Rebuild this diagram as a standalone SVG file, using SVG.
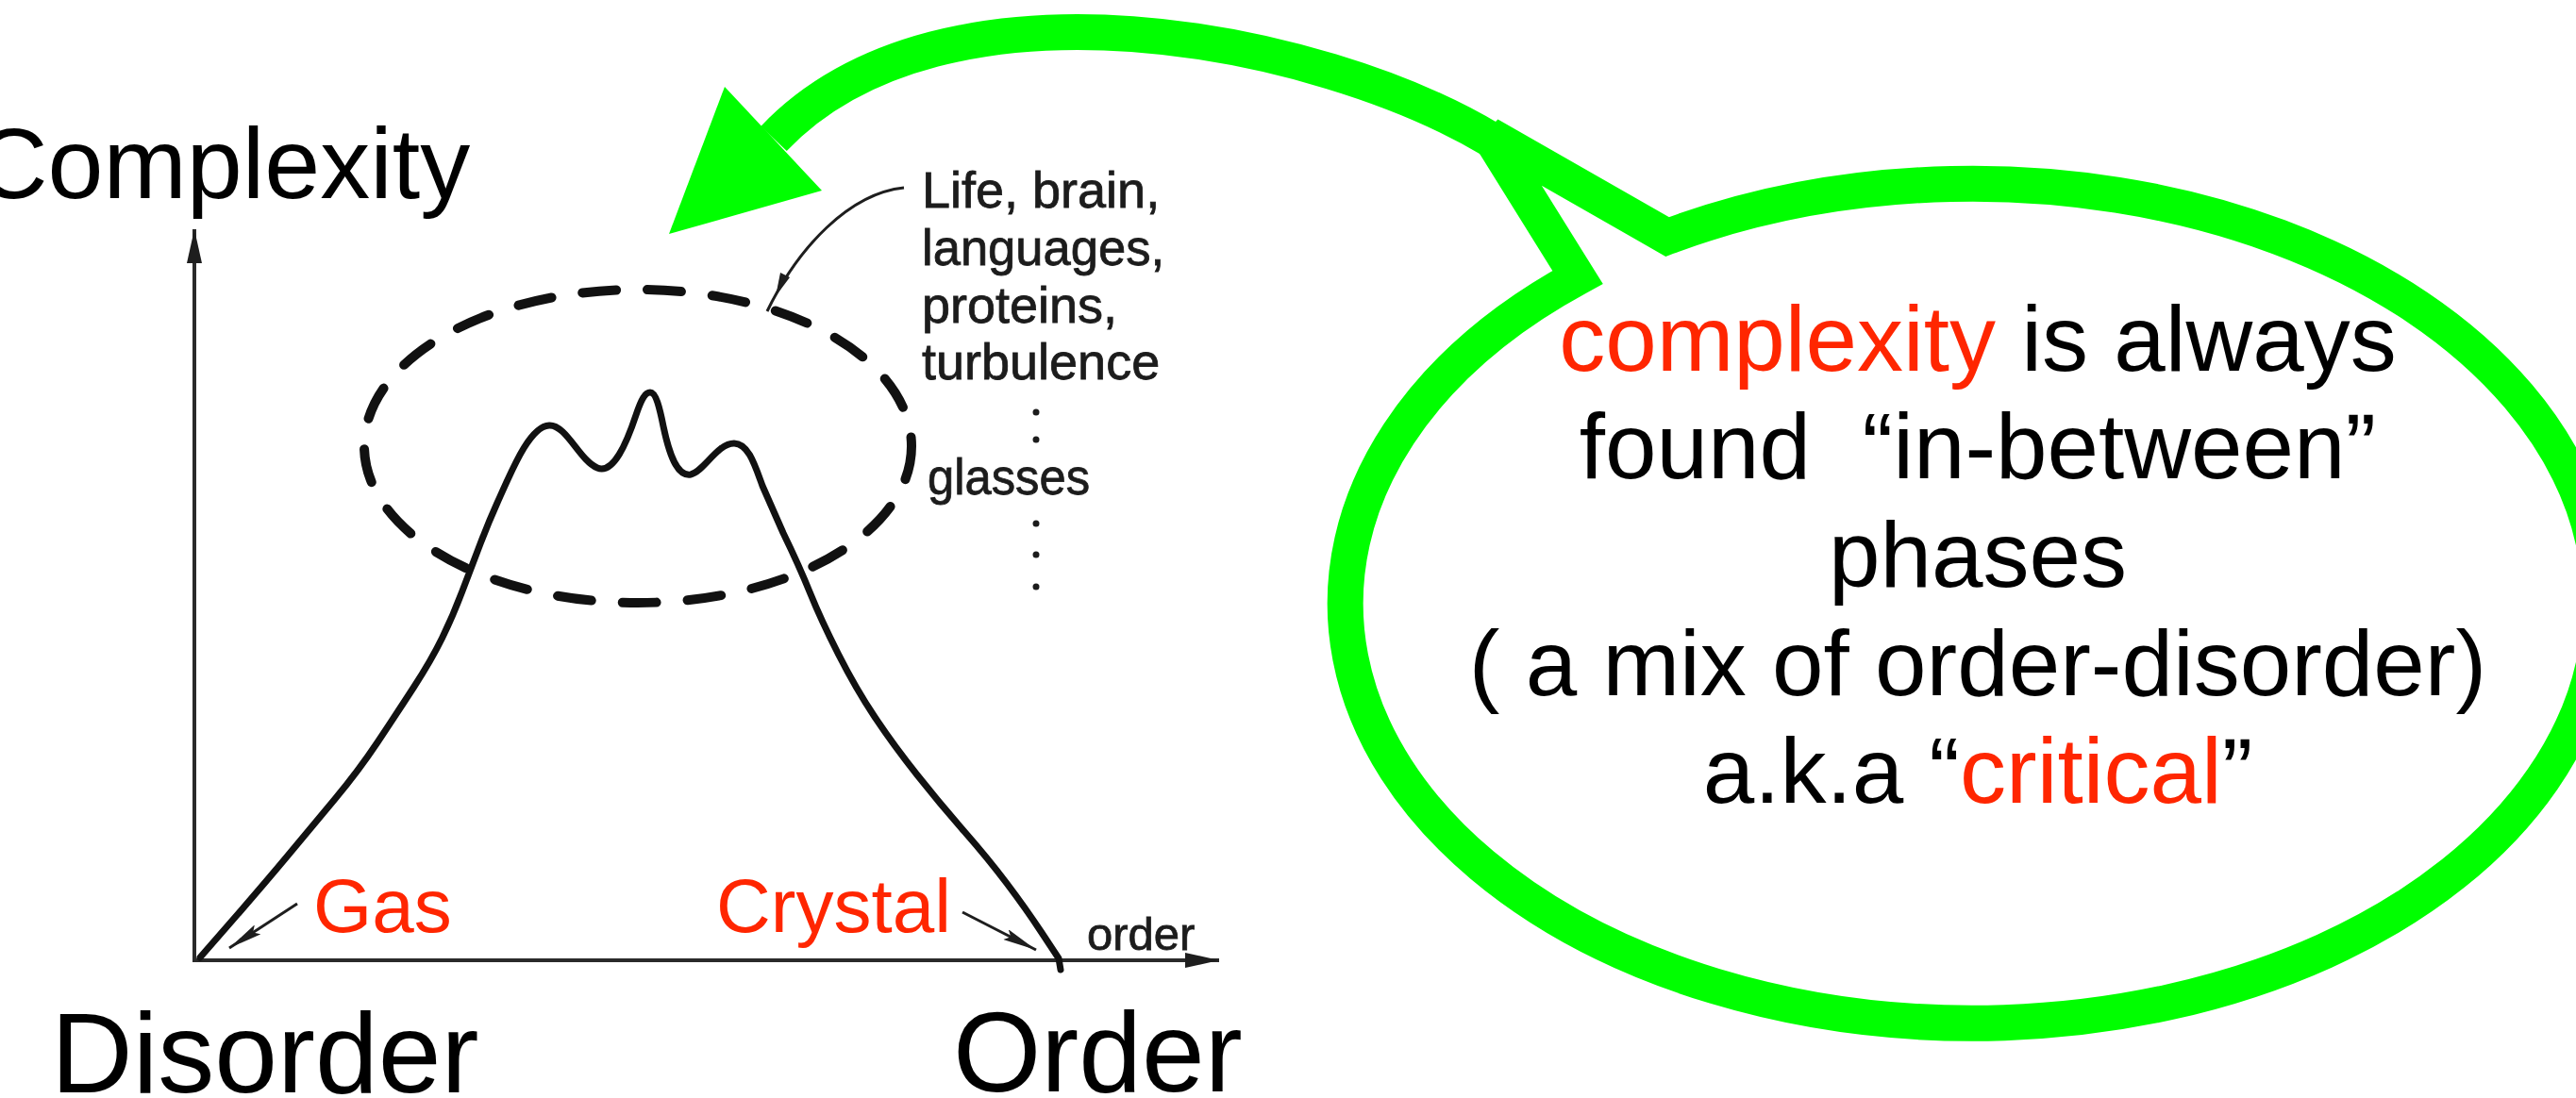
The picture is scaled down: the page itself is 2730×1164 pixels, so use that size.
<svg xmlns="http://www.w3.org/2000/svg" width="2730" height="1164" viewBox="0 0 2730 1164">
<style>
.ax{stroke:#2a2a2a;stroke-width:4;fill:none}
.thin{stroke:#1e1e1e;stroke-width:3;fill:none}
.curve{stroke:#111;stroke-width:7;fill:none;stroke-linejoin:round;stroke-linecap:round}
.dash{stroke:#111;stroke-width:10;fill:none;stroke-dasharray:36 33;stroke-linecap:round}
.green{stroke:#00FF00;stroke-width:38;fill:none}
.sans{font-family:"Liberation Sans",Arial,Helvetica,sans-serif}
.big{font-size:120px;fill:#000}
.bub{font-size:98px;fill:#000}
.red{fill:#FF2600}
.small{font-size:54px;fill:#1c1c1c;stroke:#1c1c1c;stroke-width:0.8}
.dot{fill:#1c1c1c}
</style>
<defs>
<marker id="axhead" viewBox="0 0 36 18" refX="36" refY="9" markerWidth="36" markerHeight="18" markerUnits="userSpaceOnUse" orient="auto">
<path d="M0,1 L36,9 L0,17 Z" fill="#1e1e1e"/>
</marker>
<marker id="sm" viewBox="0 0 36 12" refX="36" refY="6" markerWidth="36" markerHeight="12" markerUnits="userSpaceOnUse" orient="auto">
<path d="M0,0 L36,6 L0,12 L6,6 Z" fill="#1e1e1e"/>
</marker>
</defs>
<rect width="2730" height="1164" fill="#fff"/>

<g id="axes">
<line class="ax" x1="206" y1="1018" x2="206" y2="243" marker-end="url(#axhead)"/>
<line class="ax" x1="204" y1="1018" x2="1292" y2="1018" marker-end="url(#axhead)"/>
</g>

<g id="mountain">
<path class="curve" d="M212,1015 L246,976 Q280,937 305,907 Q330,877 355,847 Q380,817 400,787 Q420,757 438.5,728.5 Q457,700 468.5,676.5 Q480,653 490,626.5 Q500,600 509,576.5 Q518,553 527,533 C540,505 560,452 582,451 C600,450 614,488 633,496 C650,503 664,470 674,440 C680,422 684,416 689,416 C695,416 699,432 703,452 C711,490 720,505 732,503 C746,500 760,470 778,470 C793,470 800,493 808,515 L830,565 Q847,600 858.5,628.5 Q870,657 888.5,693.5 Q907,730 927,760 Q947,790 972,821.5 Q997,853 1022,881.5 Q1047,910 1067,936.5 Q1087,963 1103.5,988 L1120,1013 L1122,1016 L1124,1028"/>
</g>

<g id="region">
<ellipse class="dash" cx="676" cy="473" rx="290" ry="166"/>
</g>

<g id="connectors">
<path class="thin" d="M958,199 C900,205 846,262 813,330"/>
<path d="M822,314 L837,294 L827,289 Z" fill="#1e1e1e"/>
<line class="thin" x1="315" y1="958" x2="243" y2="1005" marker-end="url(#sm)"/>
<line class="thin" x1="1020" y1="967" x2="1098" y2="1007" marker-end="url(#sm)"/>
</g>

<g id="labels">
<text class="sans" x="-26" y="210" font-size="106" fill="#000">Complexity</text>
<text class="sans big" x="54" y="1158">Disorder</text>
<text class="sans big" x="1010" y="1157">Order</text>
<text class="sans red" x="332" y="988" font-size="80">Gas</text>
<text class="sans red" x="759" y="988" font-size="80">Crystal</text>
<text class="sans" x="1152" y="1007" font-size="49" fill="#1c1c1c" stroke="#1c1c1c" stroke-width="0.8">order</text>
</g>

<g id="examples">
<text class="sans small" x="977" y="220">Life, brain,</text>
<text class="sans small" x="977" y="281" textLength="257" lengthAdjust="spacingAndGlyphs">languages,</text>
<text class="sans small" x="977" y="342">proteins,</text>
<text class="sans small" x="977" y="402">turbulence</text>
<text class="sans small" x="983" y="524" textLength="172" lengthAdjust="spacingAndGlyphs">glasses</text>
<circle class="dot" cx="1098" cy="437" r="3.5"/>
<circle class="dot" cx="1098" cy="466" r="3.5"/>
<circle class="dot" cx="1098" cy="555" r="3.5"/>
<circle class="dot" cx="1098" cy="588" r="3.5"/>
<circle class="dot" cx="1098" cy="622" r="3.5"/>
</g>

<g id="green-arrow">
<path class="green" d="M1580,148 C1400,40 1000,-42 820,147"/>
<polygon points="709,248 768,92 871,202" fill="#00FF00"/>
</g>

<g id="bubble">
<path class="green" stroke-miterlimit="4" d="M1767,251 A665,445 0 1 1 1672,294 L1578,143 Z"/>
<text class="sans bub" x="2096" y="393" text-anchor="middle"><tspan class="red">complexity</tspan> is always</text>
<text class="sans bub" x="2096" y="507" text-anchor="middle" xml:space="preserve">found  “in-between”</text>
<text class="sans bub" x="2096" y="622" text-anchor="middle">phases</text>
<text class="sans bub" x="2096" y="737" text-anchor="middle">( a mix of order-disorder)</text>
<text class="sans bub" x="2096" y="851" text-anchor="middle">a.k.a “<tspan class="red">critical</tspan>”</text>
</g>
</svg>
